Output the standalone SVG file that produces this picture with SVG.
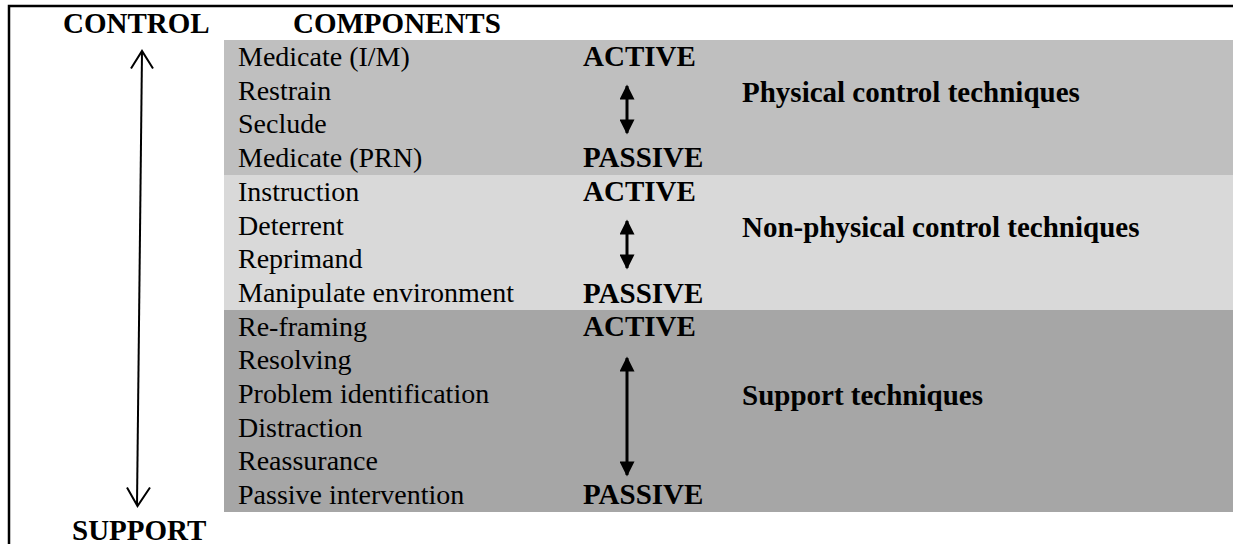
<svg xmlns="http://www.w3.org/2000/svg" width="1233" height="544" viewBox="0 0 1233 544">
<style>
.r{font-family:"Liberation Serif","Times New Roman",serif;font-size:28px;fill:#000}
.b{font-family:"Liberation Serif","Times New Roman",serif;font-size:29px;font-weight:bold;fill:#000}
.ln{stroke:#000;fill:none}
</style>
<defs>
<marker id="tri" viewBox="0 0 10 10" refX="9" refY="5" markerWidth="5.6" markerHeight="5" orient="auto-start-reverse" markerUnits="strokeWidth">
<path d="M0,0 L10,5 L0,10 z" fill="#000"/>
</marker>
</defs>
<rect x="0" y="0" width="1233" height="544" fill="#fff"/>
<g id="frame">
<path class="ln" d="M9,544 V6 H1233" stroke-width="2.5"/>
</g>
<g id="bands">
<rect x="224" y="40" width="1009" height="135" fill="#bfbfbf"/>
<rect x="224" y="175" width="1009" height="135" fill="#d9d9d9"/>
<rect x="224" y="310" width="1009" height="202" fill="#a6a6a6"/>
</g>
<g id="headers">
<text class="b" x="63" y="33">CONTROL</text>
<text class="b" x="293" y="33">COMPONENTS</text>
<text class="b" x="72" y="540">SUPPORT</text>
</g>
<g id="physical">
<text class="r" x="238" y="66">Medicate (I/M)</text>
<text class="r" x="238" y="99.7">Restrain</text>
<text class="r" x="238" y="133.4">Seclude</text>
<text class="r" x="238" y="167.1">Medicate (PRN)</text>
<text class="b" x="583" y="66">ACTIVE</text>
<text class="b" x="583" y="167">PASSIVE</text>
<text class="b" x="742" y="102">Physical control techniques</text>
</g>
<g id="nonphysical">
<text class="r" x="238" y="200.8">Instruction</text>
<text class="r" x="238" y="234.5">Deterrent</text>
<text class="r" x="238" y="268.2">Reprimand</text>
<text class="r" x="238" y="301.9">Manipulate environment</text>
<text class="b" x="583" y="201">ACTIVE</text>
<text class="b" x="583" y="303">PASSIVE</text>
<text class="b" x="742" y="237">Non-physical control techniques</text>
</g>
<g id="support">
<text class="r" x="238" y="335.6">Re-framing</text>
<text class="r" x="238" y="369.3">Resolving</text>
<text class="r" x="238" y="403">Problem identification</text>
<text class="r" x="238" y="436.7">Distraction</text>
<text class="r" x="238" y="470.4">Reassurance</text>
<text class="r" x="238" y="504.1">Passive intervention</text>
<text class="b" x="583" y="336">ACTIVE</text>
<text class="b" x="583" y="504">PASSIVE</text>
<text class="b" x="742" y="405">Support techniques</text>
</g>
<g id="connectors">
<path class="ln" stroke-width="2" d="M142,52 L137,505"/>
<path class="ln" stroke-width="2" d="M131,68.5 L142,51 L153,68.5"/>
<path class="ln" stroke-width="2" d="M127,487.5 L137.5,506 L150,487.5"/>
<line class="ln" stroke-width="3" x1="627" y1="86" x2="627" y2="133" marker-start="url(#tri)" marker-end="url(#tri)"/>
<line class="ln" stroke-width="3" x1="627" y1="221" x2="627" y2="268" marker-start="url(#tri)" marker-end="url(#tri)"/>
<line class="ln" stroke-width="3" x1="627" y1="358" x2="627" y2="475" marker-start="url(#tri)" marker-end="url(#tri)"/>
</g>
</svg>
